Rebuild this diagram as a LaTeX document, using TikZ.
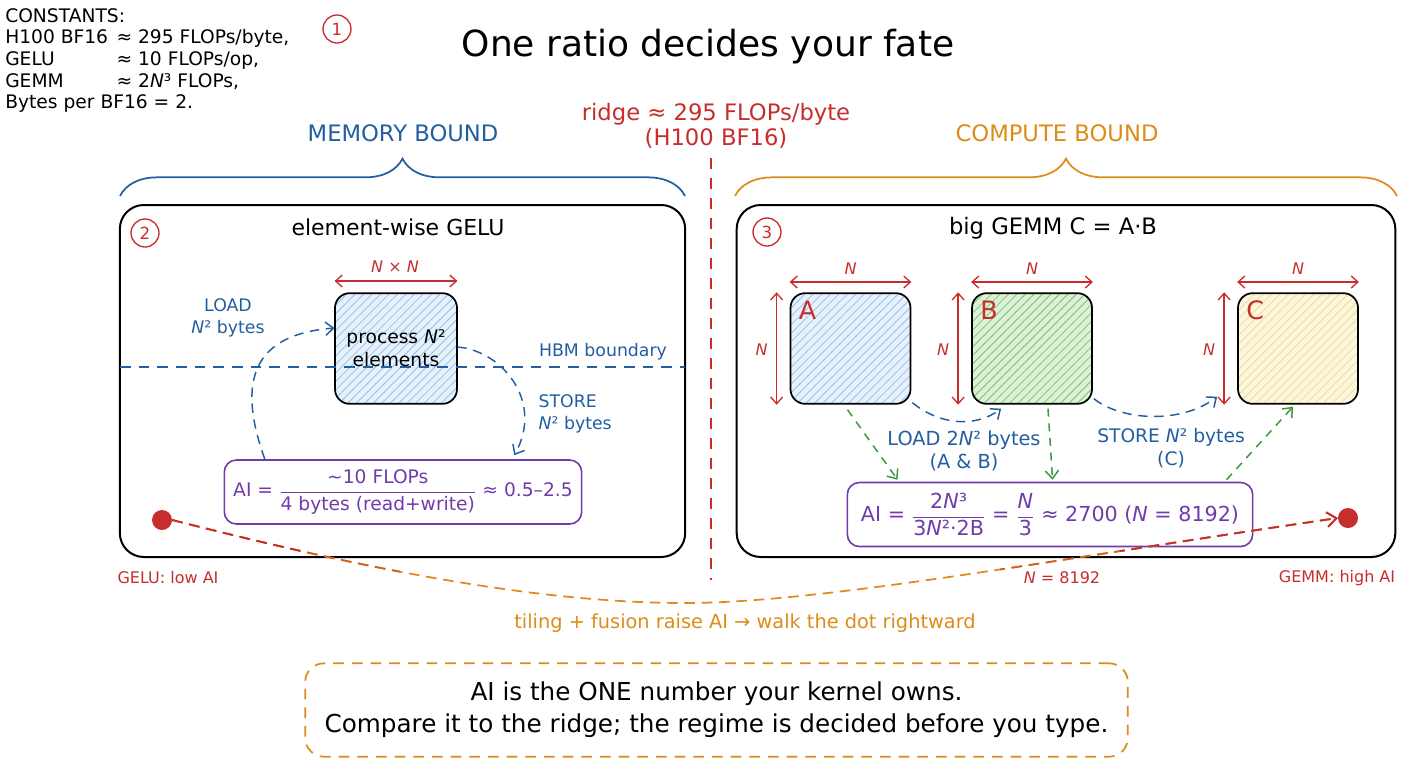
\documentclass[tikz,border=0pt]{standalone}
\usepackage{fontspec}
\setmainfont{DejaVu Sans}
\usetikzlibrary{arrows.meta,decorations.pathreplacing,patterns.meta,calc}
\definecolor{cred}{RGB}{200,45,45}
\definecolor{cblue}{RGB}{35,95,160}
\definecolor{corange}{RGB}{222,140,25}
\definecolor{cpurple}{RGB}{112,60,172}
\definecolor{cgreen}{RGB}{60,150,60}
\definecolor{fblue}{RGB}{230,241,251}
\definecolor{fgreen}{RGB}{220,241,214}
\definecolor{fyellow}{RGB}{252,247,220}
\definecolor{hblue}{RGB}{150,192,232}
\definecolor{hgreen}{RGB}{120,195,115}
\definecolor{hyellow}{RGB}{238,220,150}
\newcommand{\fs}[2]{\fontsize{#1}{#2}\selectfont}
\newcommand{\NN}{\textit{N}}
\tikzset{
  panel/.style={draw=black, line width=1.5pt, rounded corners=18pt, minimum width=424pt, minimum height=264pt},
  numcirc/.style={circle, draw=cred, line width=1pt, text=cred, minimum size=21pt, inner sep=0pt, font=\fs{12.5}{14}},
  mat/.style={draw=black, line width=1.3pt, rounded corners=11pt, minimum width=90pt, minimum height=83pt, inner sep=0pt},
  aibox/.style={draw=cpurple, line width=1.2pt, rounded corners=9pt, text=cpurple, inner sep=2pt},
  dimarrow/.style={cred, line width=1pt, {Straight Barb[length=5pt,width=9pt]}-{Straight Barb[length=5pt,width=9pt]}},
  bluedash/.style={cblue, line width=1.1pt, dash pattern=on 7pt off 5pt, -{Straight Barb[length=6pt,width=10pt]}},
  greendash/.style={cgreen, line width=1.1pt, dash pattern=on 6pt off 5pt, -{Straight Barb[length=6pt,width=10pt]}},
  bluelbl/.style={text=cblue, font=\fs{13}{17}, align=center, inner sep=1pt},
  redlbl/.style={text=cred, font=\fs{12}{14}, inner sep=1pt},
  nlbl/.style={text=cred, font=\fs{12}{14}\itshape, inner sep=1pt},
  dot/.style={circle, fill=cred, minimum size=15pt, inner sep=0pt},
  bracestyle/.style={line width=1.3pt, decorate, decoration={brace, amplitude=28pt}},
  walk/.style={line width=1.3pt, dash pattern=on 8pt off 5pt},
}
\begin{document}
\begin{tikzpicture}[x=0.75pt,y=-0.75pt]
\useasboundingbox (0,0) rectangle (1408,768);
\fill[white] (0,0) rectangle (1408,768);

% constants
\node[anchor=north west, inner sep=0pt, font=\fs{14}{16.2}] (consts) at (5,7)
 {\begin{tabular}{@{}l@{\hspace{0.45em}}l@{}}
  \multicolumn{2}{@{}l}{CONSTANTS:}\\
  H100 BF16 & ≈ 295 FLOPs/byte,\\
  GELU & ≈ 10 FLOPs/op,\\
  GEMM & ≈ 2\NN³ FLOPs,\\
  \multicolumn{2}{@{}l}{Bytes per BF16 = 2.}
 \end{tabular}};
\node[numcirc] (c1) at (337,29) {1};

% title
\node[font=\fs{27}{32}] (title) at (708,47) {One ratio decides your fate};

% ridge
\node[text=cred, font=\fs{17}{19}, align=center, inner sep=1pt] (ridge) at (716,126) {ridge ≈ 295 FLOPs/byte\\(H100 BF16)};
\coordinate (rtop) at (711,158);
\coordinate (rbot) at (711,580);
\draw[cred, line width=1.2pt, dash pattern=on 8pt off 7pt] (rtop) -- (rbot);

% regime labels and braces
\node[text=cblue, font=\fs{17}{19}] (mem) at (403,133) {MEMORY BOUND};
\node[text=corange, font=\fs{17}{19}] (comp) at (1057,133) {COMPUTE BOUND};
\coordinate (bl1) at (120,196);
\coordinate (bl2) at (685,196);
\coordinate (br1) at (735,196);
\coordinate (br2) at (1397,196);
\draw[cblue, bracestyle] (bl1) -- (bl2);
\draw[corange, bracestyle] (br1) -- (br2);

% ---------------- left panel
\node[panel] (p2) at (402.5,381) {};
\node[numcirc] (c2) at (145,233) {2};
\node[font=\fs{16.5}{19}] (t2) at (398,227) {element-wise GELU};

\node[mat, minimum width=91.5pt, preaction={fill=fblue}, pattern={Lines[angle=45,distance=4.5pt,line width=0.6pt]}, pattern color=hblue,
      font=\fs{14}{17}, align=center] (proc) at (396,348.5) {process \NN²\\elements};
\node[nlbl] (nxn) at (395,267) {\NN{} × \NN};
\draw[dimarrow] (proc.north west |- 0,281) -- (proc.north east |- 0,281);

\coordinate (hbmL) at (120,367);
\coordinate (hbmR) at (685,367);
\draw[cblue, line width=1.1pt, dash pattern=on 8pt off 6pt] (hbmL) -- (hbmR);
\node[bluelbl] (hbm) at (603,352) {HBM boundary};

\node[aibox, font=\fs{14}{16}, minimum width=268pt, minimum height=48pt] (aiL) at (403,492)
 {AI = $\displaystyle\frac{\mbox{\textasciitilde10 FLOPs}}{\mbox{4 bytes (read+write)}}$ ≈ 0.5–2.5};

\node[bluelbl] (load) at (228,318) {LOAD\\\NN² bytes};
\node[bluelbl, align=left, anchor=west] (store) at (537,414) {STORE\\\NN² bytes};

\draw[bluedash] ($(aiL.north west)!0.115!(aiL.north east)$) .. controls (240,390) and (245,335) .. (proc.west |- 0,328);
\draw[bluedash] (proc.east |- 0,347) .. controls (500,350) and (545,400) .. ($(aiL.north west)!0.81!(aiL.north east)+(0,-4)$);

\node[dot] (d1) at (162,520) {};
\node[redlbl] (gl) at (168,578) {GELU: low AI};

% ---------------- right panel
\node[panel, minimum width=494pt] (p3) at (1066,381) {};
\node[numcirc] (c3) at (767,232) {3};
\node[font=\fs{17}{19}] (t3) at (1053,228) {big GEMM C = A·B};

\node[mat, preaction={fill=fblue}, pattern={Lines[angle=45,distance=4.5pt,line width=0.6pt]}, pattern color=hblue] (A) at (850.5,348.5) {};
\node[mat, preaction={fill=fgreen}, pattern={Lines[angle=45,distance=4.5pt,line width=0.6pt]}, pattern color=hgreen] (B) at (1032,348.5) {};
\node[mat, preaction={fill=fyellow}, pattern={Lines[angle=45,distance=4.5pt,line width=0.6pt]}, pattern color=hyellow] (C) at (1298,348.5) {};
\node[text=cred, font=\fs{19}{22}, anchor=north west, inner sep=0pt] (la) at ($(A.north west)+(9,8)$) {A};
\node[text=cred, font=\fs{19}{22}, anchor=north west, inner sep=0pt] (lb) at ($(B.north west)+(9,8)$) {B};
\node[text=cred, font=\fs{19}{22}, anchor=north west, inner sep=0pt] (lc) at ($(C.north west)+(9,8)$) {C};

\foreach \m in {A,B,C}{
  \draw[dimarrow] (\m.north west |- 0,282) -- (\m.north east |- 0,282);
  \node[nlbl] at ($(\m.north)+(0,-24)$) {\NN};
  \draw[dimarrow] ($(\m.north west)+(-13,0)$) -- ($(\m.south west)+(-13,0)$);
  \node[nlbl] at ($(\m.west)+(-28,1)$) {\NN};
}

\node[aibox, font=\fs{15.5}{18}, minimum width=304pt, minimum height=48pt] (aiR) at (1050,514.5)
 {AI = $\displaystyle\frac{\mbox{2\NN³}}{\mbox{3\NN²·2B}}$ = $\displaystyle\frac{\mbox{\NN}}{\mbox{3}}$ ≈ 2700 (\NN{} = 8192)};

\draw[bluedash] ($(A.south east)+(1,-2)$) .. controls (940,425) and (975,428) .. ($(B.south west)+(30,4)$);
\draw[bluedash] ($(B.south east)+(1,-6)$) .. controls (1120,420) and (1180,425) .. ($(C.south west)+(-20,-8)$);
\draw[greendash] ($(A.south)+(-3,5)$) -- ($(aiR.north west)+(51,-2)$);
\draw[greendash] ($(B.south)+(16,4)$) -- ($(aiR.north west)+(206,-2)$);
\draw[greendash] ($(aiR.north west)+(380,-2)$) -- ($(C.south)+(-5,2)$);

\node[bluelbl, font=\fs{14.5}{17}] (loadR) at (964,451) {LOAD 2\NN² bytes\\(A \& B)};
\node[bluelbl, font=\fs{14}{17}] (storeR) at (1171,448) {STORE \NN² bytes\\(C)};

\node[dot] (d2) at (1348,518) {};
\node[redlbl] (nv) at (1062,578) {\NN{} = 8192};
\node[redlbl] (gh) at (1337,578) {GEMM: high AI};

% ---------------- walk curve
\coordinate (bot) at (685,603);
\def\walkpath{(d1.east) .. controls (330,560) and (520,603) .. (bot) .. controls (820,603) and (1050,560) .. (d2.west)}
\draw[corange, walk, -{Straight Barb[length=7pt,width=11pt]}] \walkpath;
\begin{scope}
 \clip (0,0) rectangle (400,768) (1000,0) rectangle (1408,768);
 \draw[cred!50!corange, walk, -{Straight Barb[length=7pt,width=11pt]}] \walkpath;
\end{scope}
\begin{scope}
 \clip (0,0) rectangle (300,768) (1120,0) rectangle (1408,768);
 \draw[cred, walk, -{Straight Barb[length=7pt,width=11pt]}] \walkpath;
\end{scope}
\node[text=corange, font=\fs{14.5}{17}] (tiling) at (745,623) {tiling + fusion raise AI → walk the dot rightward};

% bottom box
\node[draw=corange, line width=1.3pt, dash pattern=on 8pt off 6pt, rounded corners=14pt, minimum width=617pt, minimum height=70pt,
      font=\fs{18.5}{24}, align=center] (take) at (716.5,710)
 {AI is the ONE number your kernel owns.\\Compare it to the ridge; the regime is decided before you type.};
\end{tikzpicture}
\end{document}
